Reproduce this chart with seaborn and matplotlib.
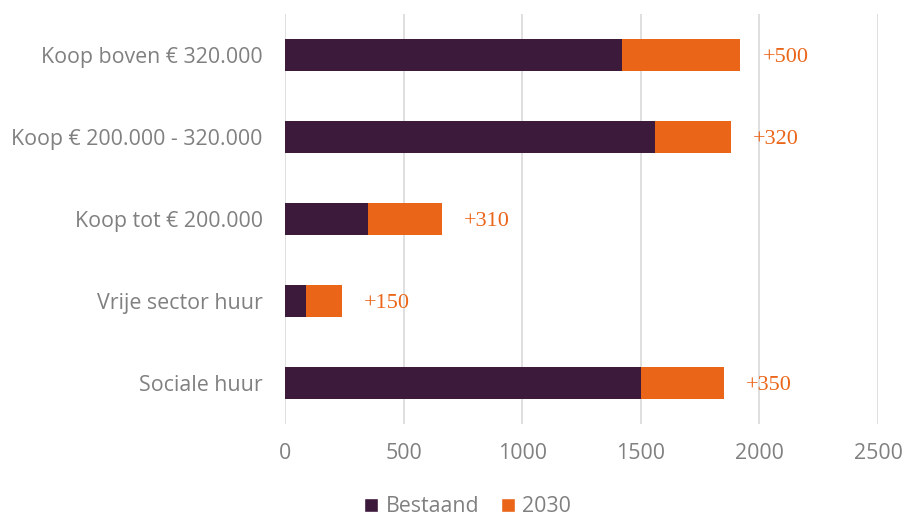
import matplotlib
matplotlib.use("Agg")
import matplotlib.pyplot as plt
import seaborn as sns
import pandas as pd
from matplotlib.patches import Patch

categories = ["Koop boven € 320.000", "Koop € 200.000 - 320.000", "Koop tot € 200.000",
              "Vrije sector huur", "Sociale huur"]
bestaand = [1420, 1560, 350, 90, 1500]
toename_2030 = [500, 320, 310, 150, 350]
labels = ["+500", "+320", "+310", "+150", "+350"]

DARK = "#3C1A3B"
ORANGE = "#EB6519"
GRAY = "#808080"

sns.set_theme(style="white")
plt.rcParams['font.family'] = ['Open Sans', 'DejaVu Sans']

df = pd.DataFrame({"cat": categories, "Bestaand": bestaand, "2030": toename_2030})
df["totaal"] = df["Bestaand"] + df["2030"]

fig = plt.figure(figsize=(9.1, 5.17), dpi=100)
ax = fig.add_axes([285/910, 1 - 424/517, (878-285)/910, (424-14)/517])

sns.barplot(data=df, y="cat", x="totaal", color=ORANGE, orient="h", width=0.4,
            ax=ax, saturation=1, linewidth=0)
sns.barplot(data=df, y="cat", x="Bestaand", color=DARK, orient="h", width=0.4,
            ax=ax, saturation=1, linewidth=0)

for i, (tot, lab) in enumerate(zip(df["totaal"], labels)):
    ax.annotate(lab, xy=(tot, i), xytext=(16, -2), textcoords="offset points",
                ha="left", va="center", color=ORANGE, fontsize=16,
                family=["Liberation Serif", "DejaVu Serif"])

ax.set_xlim(0, 2500)
ax.set_ylim(4.5, -0.5)
ax.set_xticks([0, 500, 1000, 1500, 2000, 2500])
ax.xaxis.grid(True, color="#D9D9D9", linewidth=1.2)
ax.set_axisbelow(True)
for s in ax.spines.values():
    s.set_visible(False)
ax.set_xlabel("")
ax.set_ylabel("")
ax.tick_params(axis="both", length=0, labelsize=15.4, labelcolor=GRAY)
ax.tick_params(axis="x", pad=14)
ax.tick_params(axis="y", pad=16)

handles = [Patch(facecolor=DARK, label="Bestaand"), Patch(facecolor=ORANGE, label="2030")]
fig.legend(handles=handles, loc="center", bbox_to_anchor=(0.514, 1 - 507/517), ncol=2,
           frameon=False, fontsize=15.4, labelcolor=GRAY, handlelength=0.65,
           handleheight=0.65, handletextpad=0.35, columnspacing=1.0)

fig.savefig("out.png", dpi=100)
